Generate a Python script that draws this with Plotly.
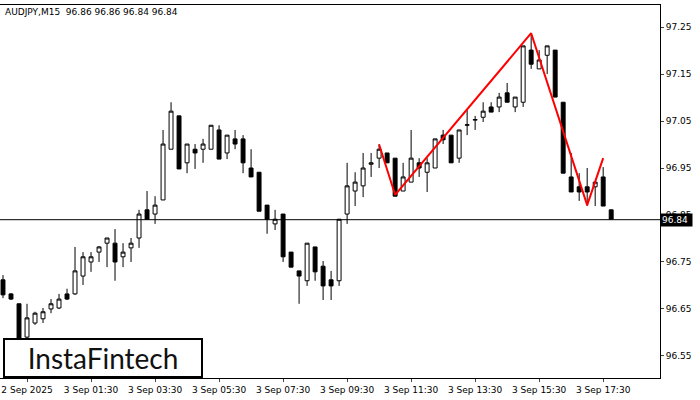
import plotly.graph_objects as go

# AUDJPY M15 candles
opens = [96.712, 96.682, 96.661, 96.590, 96.620, 96.629, 96.650, 96.652, 96.682, 96.682,
         96.720, 96.750, 96.771, 96.790, 96.790, 96.761, 96.780, 96.801, 96.861, 96.852,
         96.882, 96.990, 97.061, 96.961, 96.990, 96.990, 96.990, 97.031, 96.982, 97.012,
         97.012, 96.950, 96.941, 96.871, 96.831, 96.852, 96.771, 96.731, 96.710, 96.782,
         96.741, 96.712, 96.710, 96.852, 96.901, 96.912, 96.958, 96.971, 96.982, 96.971,
         96.901, 96.920, 96.961, 96.941, 96.950, 97.020, 97.020, 96.971, 97.041, 97.052,
         97.058, 97.080, 97.080, 97.110, 97.080, 97.090, 97.201, 97.161, 97.190, 97.201,
         97.090, 96.931, 96.910, 96.910, 96.910, 96.931, 96.861]
highs = [96.722, 96.684, 96.661, 96.661, 96.644, 96.652, 96.671, 96.682, 96.693, 96.782,
         96.771, 96.771, 96.784, 96.801, 96.820, 96.790, 96.801, 96.861, 96.901, 96.890,
         97.031, 97.090, 97.061, 97.001, 97.001, 97.012, 97.041, 97.041, 97.020, 97.031,
         97.020, 96.990, 96.941, 96.871, 96.861, 96.852, 96.771, 96.731, 96.790, 96.782,
         96.752, 96.731, 96.841, 96.961, 96.941, 96.982, 96.982, 97.001, 96.982, 96.971,
         96.961, 97.031, 96.971, 96.971, 97.012, 97.031, 97.020, 97.031, 97.073, 97.061,
         97.090, 97.090, 97.110, 97.131, 97.101, 97.210, 97.237, 97.201, 97.210, 97.201,
         97.090, 96.982, 96.939, 96.950, 96.920, 96.952, 96.861]
lows = [96.673, 96.669, 96.567, 96.584, 96.616, 96.620, 96.641, 96.650, 96.669, 96.680,
        96.701, 96.729, 96.750, 96.739, 96.710, 96.739, 96.750, 96.780, 96.841, 96.831,
        96.882, 96.990, 96.948, 96.939, 96.948, 96.961, 96.990, 96.969, 96.969, 96.990,
        96.939, 96.931, 96.858, 96.810, 96.818, 96.750, 96.739, 96.661, 96.699, 96.710,
        96.669, 96.669, 96.699, 96.831, 96.869, 96.888, 96.931, 96.950, 96.961, 96.890,
        96.901, 96.920, 96.931, 96.899, 96.950, 97.001, 96.961, 96.961, 97.020, 97.031,
        97.048, 97.069, 97.069, 97.090, 97.069, 97.080, 97.161, 97.161, 97.150, 97.101,
        96.939, 96.899, 96.880, 96.869, 96.869, 96.869, 96.841]
closes = [96.680, 96.671, 96.573, 96.631, 96.641, 96.644, 96.661, 96.671, 96.671, 96.731,
          96.761, 96.761, 96.782, 96.801, 96.750, 96.771, 96.790, 96.852, 96.841, 96.871,
          97.001, 97.071, 96.948, 97.001, 96.982, 97.001, 97.041, 96.969, 97.020, 97.001,
          96.961, 96.931, 96.858, 96.841, 96.841, 96.761, 96.739, 96.720, 96.790, 96.729,
          96.699, 96.699, 96.841, 96.912, 96.920, 96.950, 96.961, 96.990, 96.961, 96.890,
          96.931, 96.971, 96.950, 96.961, 97.012, 97.010, 96.961, 97.031, 97.042, 97.053,
          97.071, 97.069, 97.101, 97.090, 97.101, 97.210, 97.171, 97.180, 97.210, 97.101,
          96.939, 96.899, 96.899, 96.899, 96.920, 96.869, 96.841]

# pattern line (candle index, price)
pattern_idx = [47, 49, 66, 73, 75]
pattern_px = [97.000, 96.893, 97.237, 96.871, 96.971]

tick_idx = [3, 11, 19, 27, 35, 43, 51, 59, 67, 75]
tick_text = ["2 Sep 2025", "3 Sep 01:30", "3 Sep 03:30", "3 Sep 05:30", "3 Sep 07:30",
             "3 Sep 09:30", "3 Sep 11:30", "3 Sep 13:30", "3 Sep 15:30", "3 Sep 17:30"]
last_price = 96.84

x = list(range(len(opens)))

fig = go.Figure()
fig.add_trace(go.Candlestick(
    x=x, open=opens, high=highs, low=lows, close=closes,
    increasing=dict(line=dict(color="black", width=1), fillcolor="white"),
    decreasing=dict(line=dict(color="black", width=1), fillcolor="black"),
    whiskerwidth=0, showlegend=False, hoverinfo="skip"))
fig.add_trace(go.Scatter(x=pattern_idx, y=pattern_px, mode="lines",
                         line=dict(color="#ff0000", width=2), showlegend=False))
fig.add_hline(y=last_price, line=dict(color="black", width=1))

fig.update_layout(
    width=700, height=400,
    margin=dict(l=0, r=40, t=5, b=22),
    paper_bgcolor="white", plot_bgcolor="white",
    font=dict(family="DejaVu Sans", size=9, color="black"),
    xaxis=dict(range=[-0.375, 82.1], rangeslider=dict(visible=False), showgrid=False,
               tickvals=tick_idx, ticktext=tick_text, ticks="outside", ticklen=3,
               showline=True, linecolor="black", mirror=True, zeroline=False,
               automargin=False),
    yaxis=dict(range=[96.503, 97.297], side="right", showgrid=False,
               tickvals=[96.55, 96.65, 96.75, 96.85, 96.95, 97.05, 97.15, 97.25],
               tickformat=".2f", ticks="outside", ticklen=3,
               showline=True, linecolor="black", mirror=True, zeroline=False,
               automargin=False),
)

fig.add_annotation(xref="paper", yref="paper", x=0.005, y=1.0, xanchor="left", yanchor="top",
                   text="AUDJPY,M15  96.86 96.86 96.84 96.84", showarrow=False,
                   font=dict(size=9))
fig.add_annotation(xref="paper", yref="y", x=1.0, y=last_price, xanchor="left",
                   text="96.84 ", showarrow=False, bgcolor="black",
                   font=dict(color="white", size=9), borderpad=1)
fig.add_annotation(xref="paper", yref="paper", x=0.005, y=0.0, xanchor="left", yanchor="bottom",
                   text="InstaFintech", showarrow=False, bgcolor="white",
                   bordercolor="black", borderwidth=2, borderpad=3, width=190, height=30,
                   font=dict(family="Lato", size=28, color="#111111"))

fig.write_html("out.html", config={"displayModeBar": False},
               post_script="document.body.style.margin='0';")
